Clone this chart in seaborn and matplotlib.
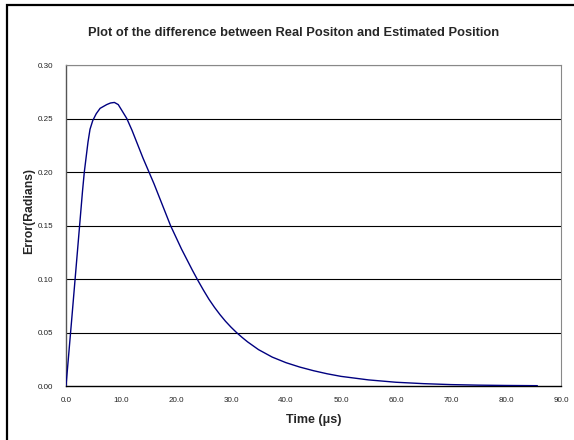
import matplotlib
matplotlib.use("Agg")
import matplotlib.pyplot as plt
import seaborn as sns
import pandas as pd
from matplotlib.patches import Rectangle

time_us = [0, 1, 2, 3, 3.33, 3.64, 4.0, 4.37, 4.86, 5.5, 6.2, 7.4, 8.1, 8.8, 9.5, 10.1,
           11.05, 12, 13, 14, 15, 16, 17, 18, 19, 20, 21, 22, 23, 24, 25, 26, 27, 28,
           29, 30, 31, 32, 33, 35, 37.5, 40, 42.5, 45, 47.5, 50, 55, 60, 65, 70, 75,
           80, 85.7]
error_rad = [0, 0.060, 0.121, 0.182, 0.200, 0.213, 0.228, 0.240, 0.248, 0.2545, 0.2595,
             0.263, 0.2645, 0.265, 0.263, 0.258, 0.250, 0.239, 0.226, 0.213, 0.201,
             0.189, 0.176, 0.163, 0.150, 0.139, 0.128, 0.118, 0.108, 0.0985, 0.0895,
             0.081, 0.0735, 0.0667, 0.0605, 0.0550, 0.0500, 0.0455, 0.0413, 0.0340,
             0.0270, 0.0218, 0.0177, 0.0143, 0.0114, 0.0090, 0.0057, 0.0035, 0.0022,
             0.0013, 0.0008, 0.0005, 0.0003]
x_ticks = [0, 10, 20, 30, 40, 50, 60, 70, 80, 90]
y_ticks = [0.00, 0.05, 0.10, 0.15, 0.20, 0.25, 0.30]

sns.set_style("white")
plt.rcParams['font.family'] = ['Liberation Sans', 'DejaVu Sans']

df = pd.DataFrame({"t": time_us, "e": error_rad})

fig = plt.figure(figsize=(5.74, 4.40), dpi=100)
ax = fig.add_axes([66/574, 1 - 386/440, (561-66)/574, (386-65)/440])

for y in y_ticks[1:]:
    ax.axhline(y, color="black", lw=0.8, zorder=1)

sns.lineplot(data=df, x="t", y="e", ax=ax, color="#000080", lw=1.0, zorder=3)

ax.set_xlim(0, 90)
ax.set_ylim(0, 0.30)
ax.set_xticks(x_ticks)
ax.set_xticklabels([f"{v:.1f}" for v in x_ticks])
ax.set_yticks(y_ticks)
ax.set_yticklabels([f"{v:.2f}" for v in y_ticks])
ax.tick_params(axis="both", labelsize=5.8, colors="#222222", length=3, width=0.8,
               direction="out")
ax.tick_params(axis="x", pad=5)
ax.tick_params(axis="y", pad=6)

for side in ["top", "right"]:
    ax.spines[side].set_color("#888888")
    ax.spines[side].set_linewidth(0.8)
ax.spines["left"].set_color("#555555")
ax.spines["left"].set_linewidth(1.0)
ax.spines["bottom"].set_color("black")
ax.spines["bottom"].set_linewidth(1.0)

ax.set_xlabel("")
ax.set_ylabel("")
fig.text(314/574, 1 - 420/440, "Time (\u03bcs)", ha="center", va="center",
         fontsize=9, fontweight="bold")
fig.text(29.5/574, 1 - 211/440, "Error(Radians)", ha="center", va="center",
         rotation=90, fontsize=8.8, fontweight="bold")

fig.text(293.5/574, 1 - 33/440, "Plot of the difference between Real Positon and Estimated Position",
         ha="center", va="center", fontsize=9.3, fontweight="bold")

fig.patches.append(Rectangle((7/574, -0.1), 1.5, 1 - 5/440 + 0.1, transform=fig.transFigure,
                             fill=False, edgecolor="black", lw=1.6))

fig.savefig("out.png", dpi=100)
